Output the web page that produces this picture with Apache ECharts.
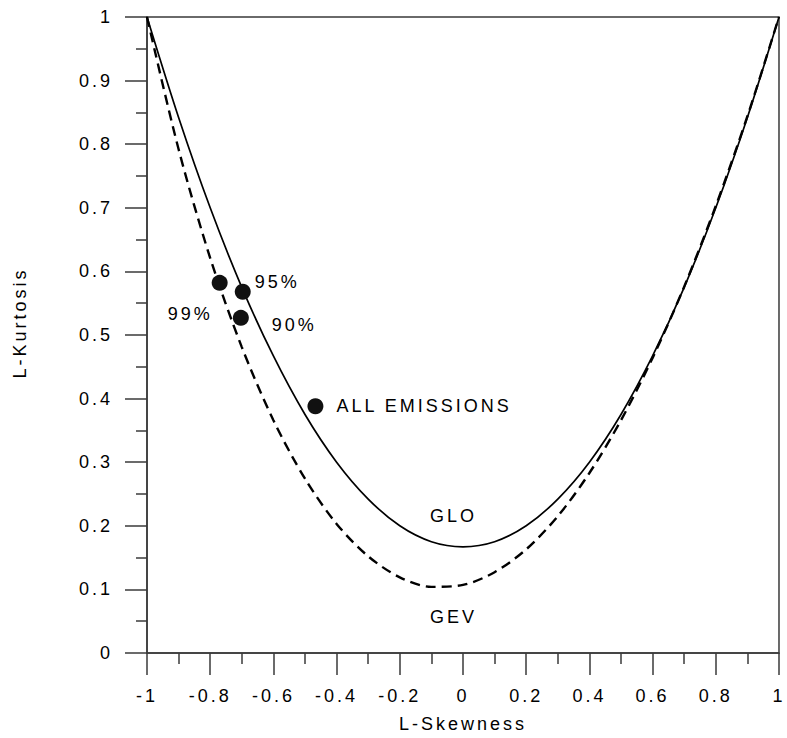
<!DOCTYPE html>
<html>
<head>
<meta charset="utf-8">
<script src="https://cdn.jsdelivr.net/npm/echarts@6/dist/echarts.min.js"></script>
<style>
html,body{margin:0;padding:0;background:#fff;}
#chart{width:787px;height:738px;letter-spacing:3px;}
</style>
</head>
<body>
<div id="chart"></div>
<script>
// L-Skewness sample positions for the theoretical curves
const tau3 = [-1, -0.9, -0.8, -0.7, -0.6, -0.5, -0.4, -0.3, -0.2, -0.1, 0,
              0.1, 0.2, 0.3, 0.4, 0.5, 0.6, 0.7, 0.8, 0.9, 1];
// GLO curve (solid) L-Kurtosis values
const gloTau4 = [1, 0.842, 0.700, 0.575, 0.467, 0.375, 0.300, 0.242, 0.200, 0.175, 0.167,
                 0.175, 0.200, 0.242, 0.300, 0.375, 0.467, 0.575, 0.700, 0.842, 1];
// GEV curve (dashed) L-Kurtosis values
const gevTau4 = [1, 0.792, 0.621, 0.481, 0.366, 0.274, 0.203, 0.152, 0.119, 0.104, 0.107,
                 0.127, 0.163, 0.215, 0.283, 0.366, 0.464, 0.576, 0.703, 0.844, 1];
// Sample points
const pointNames = ['99%', '95%', '90%', 'ALL EMISSIONS'];
const pointSkew = [-0.770, -0.697, -0.703, -0.467];
const pointKurt = [0.582, 0.568, 0.527, 0.388];
// Curve labels
const curveNames = ['GLO', 'GEV'];
const curveLabelSkew = [-0.03, -0.03];
const curveLabelKurt = [0.215, 0.057];
// Axis ticks
const xTicks = [-1, -0.8, -0.6, -0.4, -0.2, 0, 0.2, 0.4, 0.6, 0.8, 1];
const yTicks = [0, 0.1, 0.2, 0.3, 0.4, 0.5, 0.6, 0.7, 0.8, 0.9, 1];

const FONT = 'Liberation Sans, Arial, sans-serif';
const FS = 18;
const pointLabelStyle = [
  {align: 'right', offset: [-7, 31]},
  {align: 'left', offset: [12, -10]},
  {align: 'left', offset: [31, 7]},
  {align: 'left', offset: [21, 0]}
];

const chart = echarts.init(document.getElementById('chart'), null, {renderer: 'svg'});
const axisColor = '#3a3a3a';
const common = {
  axisLine: {onZero: false, lineStyle: {color: axisColor, width: 1.5}},
  axisTick: {show: true, inside: false, length: 22, lineStyle: {color: axisColor, width: 1.5}},
  minorTick: {show: true, splitNumber: 2, length: 11, lineStyle: {color: axisColor, width: 1.5}},
  splitLine: {show: false},
  nameTextStyle: {fontSize: FS, color: '#000', fontFamily: FONT},
  axisLabel: {fontSize: FS, color: '#000', fontFamily: FONT,
              formatter: v => String(Math.round(v * 10) / 10)}
};

chart.setOption({
  animation: false,
  backgroundColor: '#fff',
  grid: {left: 147, right: 6, top: 17, bottom: 85, show: true,
         borderColor: axisColor, borderWidth: 1.5, backgroundColor: 'transparent'},
  xAxis: Object.assign({}, common, {
    type: 'value', min: xTicks[0], max: xTicks[xTicks.length - 1], interval: 0.2,
    name: 'L-Skewness', nameLocation: 'middle', nameGap: 62,
    axisLabel: Object.assign({}, common.axisLabel, {margin: 34})
  }),
  yAxis: Object.assign({}, common, {
    type: 'value', min: yTicks[0], max: yTicks[yTicks.length - 1], interval: 0.1,
    name: 'L-Kurtosis', nameLocation: 'middle', nameGap: 118, nameRotate: 90,
    nameTextStyle: Object.assign({}, common.nameTextStyle, {padding: [0, 0, 0, 24]}),
    axisLabel: Object.assign({}, common.axisLabel, {margin: 34})
  }),
  series: [
    {
      type: 'line', name: 'GEV', smooth: 0.3, symbol: 'none',
      lineStyle: {color: '#000', width: 2.4, type: [10, 6]},
      data: tau3.map((x, i) => [x, gevTau4[i]]), z: 2
    },
    {
      type: 'line', name: 'GLO', smooth: 0.3, symbol: 'none',
      lineStyle: {color: '#000', width: 1.7},
      data: tau3.map((x, i) => [x, gloTau4[i]]), z: 3
    },
    {
      type: 'scatter', name: 'points', symbol: 'circle', symbolSize: 16,
      itemStyle: {color: '#111', opacity: 1}, z: 5,
      data: pointNames.map((n, i) => ({
        name: n, value: [pointSkew[i], pointKurt[i]],
        label: Object.assign({show: true, position: 'inside', verticalAlign: 'middle',
          formatter: n, fontSize: FS, color: '#000', fontFamily: FONT}, pointLabelStyle[i])
      }))
    },
    {
      type: 'scatter', name: 'curveLabels', symbolSize: 0, silent: true, z: 6,
      itemStyle: {opacity: 1},
      data: curveNames.map((n, i) => ({
        name: n, value: [curveLabelSkew[i], curveLabelKurt[i]],
        label: {show: true, position: 'inside', formatter: n, fontSize: FS,
                color: '#000', fontFamily: FONT}
      }))
    }
  ]
});
</script>
</body>
</html>
